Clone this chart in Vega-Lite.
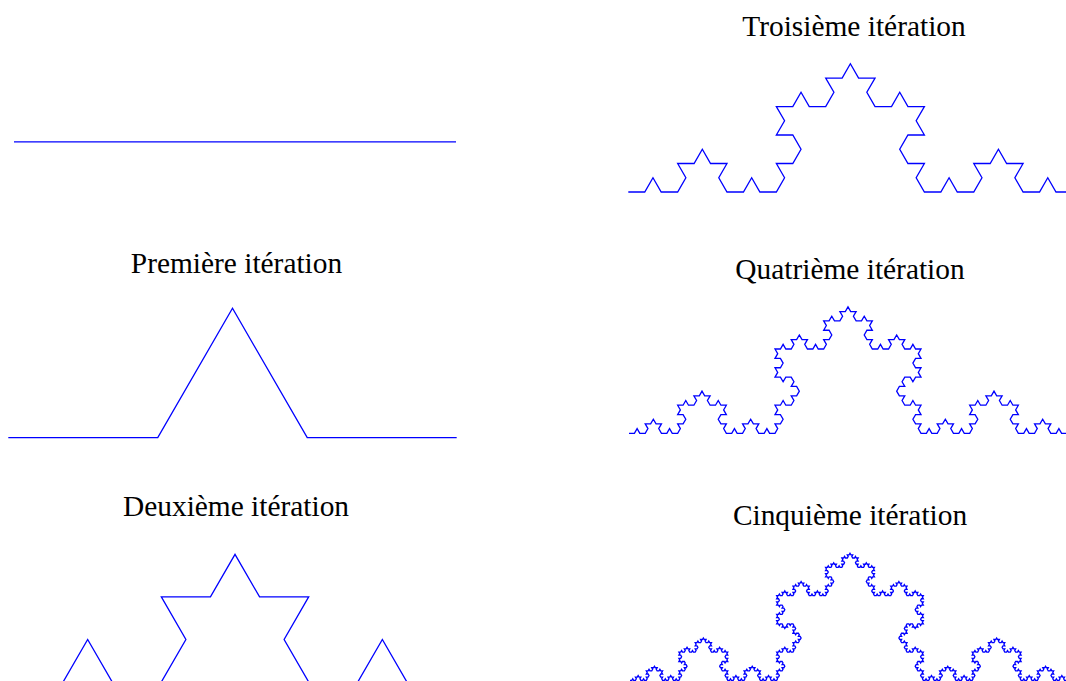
{
"$schema": "https://vega.github.io/schema/vega-lite/v6.json",
"padding": 0,
"background": "white",
"config": {"view": {"stroke": null}},
"columns": 2,
"spacing": {"row": 15, "column": 171},
"bounds": "flush",
"align": "each",
"datasets": {
"it0": [{"x":0,"y":0},{"x":2,"y":0}],
"it1": [{"x":0,"y":0},{"x":2,"y":0},{"x":3,"y":1},{"x":4,"y":0},{"x":6,"y":0}],
"it2": [{"x":0,"y":0},{"x":2,"y":0},{"x":3,"y":1},{"x":4,"y":0},{"x":6,"y":0},{"x":7,"y":1},{"x":6,"y":2},{"x":8,"y":2},{"x":9,"y":3},{"x":10,"y":2},{"x":12,"y":2},{"x":11,"y":1},{"x":12,"y":0},{"x":14,"y":0},{"x":15,"y":1},{"x":16,"y":0},{"x":18,"y":0}],
"it3": [{"x":0,"y":0},{"x":2,"y":0},{"x":3,"y":1},{"x":4,"y":0},{"x":6,"y":0},{"x":7,"y":1},{"x":6,"y":2},{"x":8,"y":2},{"x":9,"y":3},{"x":10,"y":2},{"x":12,"y":2},{"x":11,"y":1},{"x":12,"y":0},{"x":14,"y":0},{"x":15,"y":1},{"x":16,"y":0},{"x":18,"y":0},
{"x":19,"y":1},{"x":18,"y":2},{"x":20,"y":2},{"x":21,"y":3},{"x":20,"y":4},{"x":18,"y":4},{"x":19,"y":5},{"x":18,"y":6},{"x":20,"y":6},{"x":21,"y":7},{"x":22,"y":6},{"x":24,"y":6},{"x":25,"y":7},{"x":24,"y":8},{"x":26,"y":8},{"x":27,"y":9},
{"x":28,"y":8},{"x":30,"y":8},{"x":29,"y":7},{"x":30,"y":6},{"x":32,"y":6},{"x":33,"y":7},{"x":34,"y":6},{"x":36,"y":6},{"x":35,"y":5},{"x":36,"y":4},{"x":34,"y":4},{"x":33,"y":3},{"x":34,"y":2},{"x":36,"y":2},{"x":35,"y":1},{"x":36,"y":0},
{"x":38,"y":0},{"x":39,"y":1},{"x":40,"y":0},{"x":42,"y":0},{"x":43,"y":1},{"x":42,"y":2},{"x":44,"y":2},{"x":45,"y":3},{"x":46,"y":2},{"x":48,"y":2},{"x":47,"y":1},{"x":48,"y":0},{"x":50,"y":0},{"x":51,"y":1},{"x":52,"y":0},{"x":54,"y":0}],
"it4": [{"x":0,"y":0},{"x":2,"y":0},{"x":3,"y":1},{"x":4,"y":0},{"x":6,"y":0},{"x":7,"y":1},{"x":6,"y":2},{"x":8,"y":2},{"x":9,"y":3},{"x":10,"y":2},{"x":12,"y":2},{"x":11,"y":1},{"x":12,"y":0},{"x":14,"y":0},{"x":15,"y":1},{"x":16,"y":0},{"x":18,"y":0},
{"x":19,"y":1},{"x":18,"y":2},{"x":20,"y":2},{"x":21,"y":3},{"x":20,"y":4},{"x":18,"y":4},{"x":19,"y":5},{"x":18,"y":6},{"x":20,"y":6},{"x":21,"y":7},{"x":22,"y":6},{"x":24,"y":6},{"x":25,"y":7},{"x":24,"y":8},{"x":26,"y":8},{"x":27,"y":9},
{"x":28,"y":8},{"x":30,"y":8},{"x":29,"y":7},{"x":30,"y":6},{"x":32,"y":6},{"x":33,"y":7},{"x":34,"y":6},{"x":36,"y":6},{"x":35,"y":5},{"x":36,"y":4},{"x":34,"y":4},{"x":33,"y":3},{"x":34,"y":2},{"x":36,"y":2},{"x":35,"y":1},{"x":36,"y":0},
{"x":38,"y":0},{"x":39,"y":1},{"x":40,"y":0},{"x":42,"y":0},{"x":43,"y":1},{"x":42,"y":2},{"x":44,"y":2},{"x":45,"y":3},{"x":46,"y":2},{"x":48,"y":2},{"x":47,"y":1},{"x":48,"y":0},{"x":50,"y":0},{"x":51,"y":1},{"x":52,"y":0},{"x":54,"y":0},
{"x":55,"y":1},{"x":54,"y":2},{"x":56,"y":2},{"x":57,"y":3},{"x":56,"y":4},{"x":54,"y":4},{"x":55,"y":5},{"x":54,"y":6},{"x":56,"y":6},{"x":57,"y":7},{"x":58,"y":6},{"x":60,"y":6},{"x":61,"y":7},{"x":60,"y":8},{"x":62,"y":8},{"x":63,"y":9},
{"x":62,"y":10},{"x":60,"y":10},{"x":61,"y":11},{"x":60,"y":12},{"x":58,"y":12},{"x":57,"y":11},{"x":56,"y":12},{"x":54,"y":12},{"x":55,"y":13},{"x":54,"y":14},{"x":56,"y":14},{"x":57,"y":15},{"x":56,"y":16},{"x":54,"y":16},{"x":55,"y":17},{"x":54,"y":18},
{"x":56,"y":18},{"x":57,"y":19},{"x":58,"y":18},{"x":60,"y":18},{"x":61,"y":19},{"x":60,"y":20},{"x":62,"y":20},{"x":63,"y":21},{"x":64,"y":20},{"x":66,"y":20},{"x":65,"y":19},{"x":66,"y":18},{"x":68,"y":18},{"x":69,"y":19},{"x":70,"y":18},{"x":72,"y":18},
{"x":73,"y":19},{"x":72,"y":20},{"x":74,"y":20},{"x":75,"y":21},{"x":74,"y":22},{"x":72,"y":22},{"x":73,"y":23},{"x":72,"y":24},{"x":74,"y":24},{"x":75,"y":25},{"x":76,"y":24},{"x":78,"y":24},{"x":79,"y":25},{"x":78,"y":26},{"x":80,"y":26},{"x":81,"y":27},
{"x":82,"y":26},{"x":84,"y":26},{"x":83,"y":25},{"x":84,"y":24},{"x":86,"y":24},{"x":87,"y":25},{"x":88,"y":24},{"x":90,"y":24},{"x":89,"y":23},{"x":90,"y":22},{"x":88,"y":22},{"x":87,"y":21},{"x":88,"y":20},{"x":90,"y":20},{"x":89,"y":19},{"x":90,"y":18},
{"x":92,"y":18},{"x":93,"y":19},{"x":94,"y":18},{"x":96,"y":18},{"x":97,"y":19},{"x":96,"y":20},{"x":98,"y":20},{"x":99,"y":21},{"x":100,"y":20},{"x":102,"y":20},{"x":101,"y":19},{"x":102,"y":18},{"x":104,"y":18},{"x":105,"y":19},{"x":106,"y":18},{"x":108,"y":18},
{"x":107,"y":17},{"x":108,"y":16},{"x":106,"y":16},{"x":105,"y":15},{"x":106,"y":14},{"x":108,"y":14},{"x":107,"y":13},{"x":108,"y":12},{"x":106,"y":12},{"x":105,"y":11},{"x":104,"y":12},{"x":102,"y":12},{"x":101,"y":11},{"x":102,"y":10},{"x":100,"y":10},{"x":99,"y":9},
{"x":100,"y":8},{"x":102,"y":8},{"x":101,"y":7},{"x":102,"y":6},{"x":104,"y":6},{"x":105,"y":7},{"x":106,"y":6},{"x":108,"y":6},{"x":107,"y":5},{"x":108,"y":4},{"x":106,"y":4},{"x":105,"y":3},{"x":106,"y":2},{"x":108,"y":2},{"x":107,"y":1},{"x":108,"y":0},
{"x":110,"y":0},{"x":111,"y":1},{"x":112,"y":0},{"x":114,"y":0},{"x":115,"y":1},{"x":114,"y":2},{"x":116,"y":2},{"x":117,"y":3},{"x":118,"y":2},{"x":120,"y":2},{"x":119,"y":1},{"x":120,"y":0},{"x":122,"y":0},{"x":123,"y":1},{"x":124,"y":0},{"x":126,"y":0},
{"x":127,"y":1},{"x":126,"y":2},{"x":128,"y":2},{"x":129,"y":3},{"x":128,"y":4},{"x":126,"y":4},{"x":127,"y":5},{"x":126,"y":6},{"x":128,"y":6},{"x":129,"y":7},{"x":130,"y":6},{"x":132,"y":6},{"x":133,"y":7},{"x":132,"y":8},{"x":134,"y":8},{"x":135,"y":9},
{"x":136,"y":8},{"x":138,"y":8},{"x":137,"y":7},{"x":138,"y":6},{"x":140,"y":6},{"x":141,"y":7},{"x":142,"y":6},{"x":144,"y":6},{"x":143,"y":5},{"x":144,"y":4},{"x":142,"y":4},{"x":141,"y":3},{"x":142,"y":2},{"x":144,"y":2},{"x":143,"y":1},{"x":144,"y":0},
{"x":146,"y":0},{"x":147,"y":1},{"x":148,"y":0},{"x":150,"y":0},{"x":151,"y":1},{"x":150,"y":2},{"x":152,"y":2},{"x":153,"y":3},{"x":154,"y":2},{"x":156,"y":2},{"x":155,"y":1},{"x":156,"y":0},{"x":158,"y":0},{"x":159,"y":1},{"x":160,"y":0},{"x":162,"y":0}],
"it5": [{"x":0,"y":0},{"x":2,"y":0},{"x":3,"y":1},{"x":4,"y":0},{"x":6,"y":0},{"x":7,"y":1},{"x":6,"y":2},{"x":8,"y":2},{"x":9,"y":3},{"x":10,"y":2},{"x":12,"y":2},{"x":11,"y":1},{"x":12,"y":0},{"x":14,"y":0},{"x":15,"y":1},{"x":16,"y":0},{"x":18,"y":0},
{"x":19,"y":1},{"x":18,"y":2},{"x":20,"y":2},{"x":21,"y":3},{"x":20,"y":4},{"x":18,"y":4},{"x":19,"y":5},{"x":18,"y":6},{"x":20,"y":6},{"x":21,"y":7},{"x":22,"y":6},{"x":24,"y":6},{"x":25,"y":7},{"x":24,"y":8},{"x":26,"y":8},{"x":27,"y":9},
{"x":28,"y":8},{"x":30,"y":8},{"x":29,"y":7},{"x":30,"y":6},{"x":32,"y":6},{"x":33,"y":7},{"x":34,"y":6},{"x":36,"y":6},{"x":35,"y":5},{"x":36,"y":4},{"x":34,"y":4},{"x":33,"y":3},{"x":34,"y":2},{"x":36,"y":2},{"x":35,"y":1},{"x":36,"y":0},
{"x":38,"y":0},{"x":39,"y":1},{"x":40,"y":0},{"x":42,"y":0},{"x":43,"y":1},{"x":42,"y":2},{"x":44,"y":2},{"x":45,"y":3},{"x":46,"y":2},{"x":48,"y":2},{"x":47,"y":1},{"x":48,"y":0},{"x":50,"y":0},{"x":51,"y":1},{"x":52,"y":0},{"x":54,"y":0},
{"x":55,"y":1},{"x":54,"y":2},{"x":56,"y":2},{"x":57,"y":3},{"x":56,"y":4},{"x":54,"y":4},{"x":55,"y":5},{"x":54,"y":6},{"x":56,"y":6},{"x":57,"y":7},{"x":58,"y":6},{"x":60,"y":6},{"x":61,"y":7},{"x":60,"y":8},{"x":62,"y":8},{"x":63,"y":9},
{"x":62,"y":10},{"x":60,"y":10},{"x":61,"y":11},{"x":60,"y":12},{"x":58,"y":12},{"x":57,"y":11},{"x":56,"y":12},{"x":54,"y":12},{"x":55,"y":13},{"x":54,"y":14},{"x":56,"y":14},{"x":57,"y":15},{"x":56,"y":16},{"x":54,"y":16},{"x":55,"y":17},{"x":54,"y":18},
{"x":56,"y":18},{"x":57,"y":19},{"x":58,"y":18},{"x":60,"y":18},{"x":61,"y":19},{"x":60,"y":20},{"x":62,"y":20},{"x":63,"y":21},{"x":64,"y":20},{"x":66,"y":20},{"x":65,"y":19},{"x":66,"y":18},{"x":68,"y":18},{"x":69,"y":19},{"x":70,"y":18},{"x":72,"y":18},
{"x":73,"y":19},{"x":72,"y":20},{"x":74,"y":20},{"x":75,"y":21},{"x":74,"y":22},{"x":72,"y":22},{"x":73,"y":23},{"x":72,"y":24},{"x":74,"y":24},{"x":75,"y":25},{"x":76,"y":24},{"x":78,"y":24},{"x":79,"y":25},{"x":78,"y":26},{"x":80,"y":26},{"x":81,"y":27},
{"x":82,"y":26},{"x":84,"y":26},{"x":83,"y":25},{"x":84,"y":24},{"x":86,"y":24},{"x":87,"y":25},{"x":88,"y":24},{"x":90,"y":24},{"x":89,"y":23},{"x":90,"y":22},{"x":88,"y":22},{"x":87,"y":21},{"x":88,"y":20},{"x":90,"y":20},{"x":89,"y":19},{"x":90,"y":18},
{"x":92,"y":18},{"x":93,"y":19},{"x":94,"y":18},{"x":96,"y":18},{"x":97,"y":19},{"x":96,"y":20},{"x":98,"y":20},{"x":99,"y":21},{"x":100,"y":20},{"x":102,"y":20},{"x":101,"y":19},{"x":102,"y":18},{"x":104,"y":18},{"x":105,"y":19},{"x":106,"y":18},{"x":108,"y":18},
{"x":107,"y":17},{"x":108,"y":16},{"x":106,"y":16},{"x":105,"y":15},{"x":106,"y":14},{"x":108,"y":14},{"x":107,"y":13},{"x":108,"y":12},{"x":106,"y":12},{"x":105,"y":11},{"x":104,"y":12},{"x":102,"y":12},{"x":101,"y":11},{"x":102,"y":10},{"x":100,"y":10},{"x":99,"y":9},
{"x":100,"y":8},{"x":102,"y":8},{"x":101,"y":7},{"x":102,"y":6},{"x":104,"y":6},{"x":105,"y":7},{"x":106,"y":6},{"x":108,"y":6},{"x":107,"y":5},{"x":108,"y":4},{"x":106,"y":4},{"x":105,"y":3},{"x":106,"y":2},{"x":108,"y":2},{"x":107,"y":1},{"x":108,"y":0},
{"x":110,"y":0},{"x":111,"y":1},{"x":112,"y":0},{"x":114,"y":0},{"x":115,"y":1},{"x":114,"y":2},{"x":116,"y":2},{"x":117,"y":3},{"x":118,"y":2},{"x":120,"y":2},{"x":119,"y":1},{"x":120,"y":0},{"x":122,"y":0},{"x":123,"y":1},{"x":124,"y":0},{"x":126,"y":0},
{"x":127,"y":1},{"x":126,"y":2},{"x":128,"y":2},{"x":129,"y":3},{"x":128,"y":4},{"x":126,"y":4},{"x":127,"y":5},{"x":126,"y":6},{"x":128,"y":6},{"x":129,"y":7},{"x":130,"y":6},{"x":132,"y":6},{"x":133,"y":7},{"x":132,"y":8},{"x":134,"y":8},{"x":135,"y":9},
{"x":136,"y":8},{"x":138,"y":8},{"x":137,"y":7},{"x":138,"y":6},{"x":140,"y":6},{"x":141,"y":7},{"x":142,"y":6},{"x":144,"y":6},{"x":143,"y":5},{"x":144,"y":4},{"x":142,"y":4},{"x":141,"y":3},{"x":142,"y":2},{"x":144,"y":2},{"x":143,"y":1},{"x":144,"y":0},
{"x":146,"y":0},{"x":147,"y":1},{"x":148,"y":0},{"x":150,"y":0},{"x":151,"y":1},{"x":150,"y":2},{"x":152,"y":2},{"x":153,"y":3},{"x":154,"y":2},{"x":156,"y":2},{"x":155,"y":1},{"x":156,"y":0},{"x":158,"y":0},{"x":159,"y":1},{"x":160,"y":0},{"x":162,"y":0},
{"x":163,"y":1},{"x":162,"y":2},{"x":164,"y":2},{"x":165,"y":3},{"x":164,"y":4},{"x":162,"y":4},{"x":163,"y":5},{"x":162,"y":6},{"x":164,"y":6},{"x":165,"y":7},{"x":166,"y":6},{"x":168,"y":6},{"x":169,"y":7},{"x":168,"y":8},{"x":170,"y":8},{"x":171,"y":9},
{"x":170,"y":10},{"x":168,"y":10},{"x":169,"y":11},{"x":168,"y":12},{"x":166,"y":12},{"x":165,"y":11},{"x":164,"y":12},{"x":162,"y":12},{"x":163,"y":13},{"x":162,"y":14},{"x":164,"y":14},{"x":165,"y":15},{"x":164,"y":16},{"x":162,"y":16},{"x":163,"y":17},{"x":162,"y":18},
{"x":164,"y":18},{"x":165,"y":19},{"x":166,"y":18},{"x":168,"y":18},{"x":169,"y":19},{"x":168,"y":20},{"x":170,"y":20},{"x":171,"y":21},{"x":172,"y":20},{"x":174,"y":20},{"x":173,"y":19},{"x":174,"y":18},{"x":176,"y":18},{"x":177,"y":19},{"x":178,"y":18},{"x":180,"y":18},
{"x":181,"y":19},{"x":180,"y":20},{"x":182,"y":20},{"x":183,"y":21},{"x":182,"y":22},{"x":180,"y":22},{"x":181,"y":23},{"x":180,"y":24},{"x":182,"y":24},{"x":183,"y":25},{"x":184,"y":24},{"x":186,"y":24},{"x":187,"y":25},{"x":186,"y":26},{"x":188,"y":26},{"x":189,"y":27},
{"x":188,"y":28},{"x":186,"y":28},{"x":187,"y":29},{"x":186,"y":30},{"x":184,"y":30},{"x":183,"y":29},{"x":182,"y":30},{"x":180,"y":30},{"x":181,"y":31},{"x":180,"y":32},{"x":182,"y":32},{"x":183,"y":33},{"x":182,"y":34},{"x":180,"y":34},{"x":181,"y":35},{"x":180,"y":36},
{"x":178,"y":36},{"x":177,"y":35},{"x":176,"y":36},{"x":174,"y":36},{"x":173,"y":35},{"x":174,"y":34},{"x":172,"y":34},{"x":171,"y":33},{"x":170,"y":34},{"x":168,"y":34},{"x":169,"y":35},{"x":168,"y":36},{"x":166,"y":36},{"x":165,"y":35},{"x":164,"y":36},{"x":162,"y":36},
{"x":163,"y":37},{"x":162,"y":38},{"x":164,"y":38},{"x":165,"y":39},{"x":164,"y":40},{"x":162,"y":40},{"x":163,"y":41},{"x":162,"y":42},{"x":164,"y":42},{"x":165,"y":43},{"x":166,"y":42},{"x":168,"y":42},{"x":169,"y":43},{"x":168,"y":44},{"x":170,"y":44},{"x":171,"y":45},
{"x":170,"y":46},{"x":168,"y":46},{"x":169,"y":47},{"x":168,"y":48},{"x":166,"y":48},{"x":165,"y":47},{"x":164,"y":48},{"x":162,"y":48},{"x":163,"y":49},{"x":162,"y":50},{"x":164,"y":50},{"x":165,"y":51},{"x":164,"y":52},{"x":162,"y":52},{"x":163,"y":53},{"x":162,"y":54},
{"x":164,"y":54},{"x":165,"y":55},{"x":166,"y":54},{"x":168,"y":54},{"x":169,"y":55},{"x":168,"y":56},{"x":170,"y":56},{"x":171,"y":57},{"x":172,"y":56},{"x":174,"y":56},{"x":173,"y":55},{"x":174,"y":54},{"x":176,"y":54},{"x":177,"y":55},{"x":178,"y":54},{"x":180,"y":54},
{"x":181,"y":55},{"x":180,"y":56},{"x":182,"y":56},{"x":183,"y":57},{"x":182,"y":58},{"x":180,"y":58},{"x":181,"y":59},{"x":180,"y":60},{"x":182,"y":60},{"x":183,"y":61},{"x":184,"y":60},{"x":186,"y":60},{"x":187,"y":61},{"x":186,"y":62},{"x":188,"y":62},{"x":189,"y":63},
{"x":190,"y":62},{"x":192,"y":62},{"x":191,"y":61},{"x":192,"y":60},{"x":194,"y":60},{"x":195,"y":61},{"x":196,"y":60},{"x":198,"y":60},{"x":197,"y":59},{"x":198,"y":58},{"x":196,"y":58},{"x":195,"y":57},{"x":196,"y":56},{"x":198,"y":56},{"x":197,"y":55},{"x":198,"y":54},
{"x":200,"y":54},{"x":201,"y":55},{"x":202,"y":54},{"x":204,"y":54},{"x":205,"y":55},{"x":204,"y":56},{"x":206,"y":56},{"x":207,"y":57},{"x":208,"y":56},{"x":210,"y":56},{"x":209,"y":55},{"x":210,"y":54},{"x":212,"y":54},{"x":213,"y":55},{"x":214,"y":54},{"x":216,"y":54},
{"x":217,"y":55},{"x":216,"y":56},{"x":218,"y":56},{"x":219,"y":57},{"x":218,"y":58},{"x":216,"y":58},{"x":217,"y":59},{"x":216,"y":60},{"x":218,"y":60},{"x":219,"y":61},{"x":220,"y":60},{"x":222,"y":60},{"x":223,"y":61},{"x":222,"y":62},{"x":224,"y":62},{"x":225,"y":63},
{"x":224,"y":64},{"x":222,"y":64},{"x":223,"y":65},{"x":222,"y":66},{"x":220,"y":66},{"x":219,"y":65},{"x":218,"y":66},{"x":216,"y":66},{"x":217,"y":67},{"x":216,"y":68},{"x":218,"y":68},{"x":219,"y":69},{"x":218,"y":70},{"x":216,"y":70},{"x":217,"y":71},{"x":216,"y":72},
{"x":218,"y":72},{"x":219,"y":73},{"x":220,"y":72},{"x":222,"y":72},{"x":223,"y":73},{"x":222,"y":74},{"x":224,"y":74},{"x":225,"y":75},{"x":226,"y":74},{"x":228,"y":74},{"x":227,"y":73},{"x":228,"y":72},{"x":230,"y":72},{"x":231,"y":73},{"x":232,"y":72},{"x":234,"y":72},
{"x":235,"y":73},{"x":234,"y":74},{"x":236,"y":74},{"x":237,"y":75},{"x":236,"y":76},{"x":234,"y":76},{"x":235,"y":77},{"x":234,"y":78},{"x":236,"y":78},{"x":237,"y":79},{"x":238,"y":78},{"x":240,"y":78},{"x":241,"y":79},{"x":240,"y":80},{"x":242,"y":80},{"x":243,"y":81},
{"x":244,"y":80},{"x":246,"y":80},{"x":245,"y":79},{"x":246,"y":78},{"x":248,"y":78},{"x":249,"y":79},{"x":250,"y":78},{"x":252,"y":78},{"x":251,"y":77},{"x":252,"y":76},{"x":250,"y":76},{"x":249,"y":75},{"x":250,"y":74},{"x":252,"y":74},{"x":251,"y":73},{"x":252,"y":72},
{"x":254,"y":72},{"x":255,"y":73},{"x":256,"y":72},{"x":258,"y":72},{"x":259,"y":73},{"x":258,"y":74},{"x":260,"y":74},{"x":261,"y":75},{"x":262,"y":74},{"x":264,"y":74},{"x":263,"y":73},{"x":264,"y":72},{"x":266,"y":72},{"x":267,"y":73},{"x":268,"y":72},{"x":270,"y":72},
{"x":269,"y":71},{"x":270,"y":70},{"x":268,"y":70},{"x":267,"y":69},{"x":268,"y":68},{"x":270,"y":68},{"x":269,"y":67},{"x":270,"y":66},{"x":268,"y":66},{"x":267,"y":65},{"x":266,"y":66},{"x":264,"y":66},{"x":263,"y":65},{"x":264,"y":64},{"x":262,"y":64},{"x":261,"y":63},
{"x":262,"y":62},{"x":264,"y":62},{"x":263,"y":61},{"x":264,"y":60},{"x":266,"y":60},{"x":267,"y":61},{"x":268,"y":60},{"x":270,"y":60},{"x":269,"y":59},{"x":270,"y":58},{"x":268,"y":58},{"x":267,"y":57},{"x":268,"y":56},{"x":270,"y":56},{"x":269,"y":55},{"x":270,"y":54},
{"x":272,"y":54},{"x":273,"y":55},{"x":274,"y":54},{"x":276,"y":54},{"x":277,"y":55},{"x":276,"y":56},{"x":278,"y":56},{"x":279,"y":57},{"x":280,"y":56},{"x":282,"y":56},{"x":281,"y":55},{"x":282,"y":54},{"x":284,"y":54},{"x":285,"y":55},{"x":286,"y":54},{"x":288,"y":54},
{"x":289,"y":55},{"x":288,"y":56},{"x":290,"y":56},{"x":291,"y":57},{"x":290,"y":58},{"x":288,"y":58},{"x":289,"y":59},{"x":288,"y":60},{"x":290,"y":60},{"x":291,"y":61},{"x":292,"y":60},{"x":294,"y":60},{"x":295,"y":61},{"x":294,"y":62},{"x":296,"y":62},{"x":297,"y":63},
{"x":298,"y":62},{"x":300,"y":62},{"x":299,"y":61},{"x":300,"y":60},{"x":302,"y":60},{"x":303,"y":61},{"x":304,"y":60},{"x":306,"y":60},{"x":305,"y":59},{"x":306,"y":58},{"x":304,"y":58},{"x":303,"y":57},{"x":304,"y":56},{"x":306,"y":56},{"x":305,"y":55},{"x":306,"y":54},
{"x":308,"y":54},{"x":309,"y":55},{"x":310,"y":54},{"x":312,"y":54},{"x":313,"y":55},{"x":312,"y":56},{"x":314,"y":56},{"x":315,"y":57},{"x":316,"y":56},{"x":318,"y":56},{"x":317,"y":55},{"x":318,"y":54},{"x":320,"y":54},{"x":321,"y":55},{"x":322,"y":54},{"x":324,"y":54},
{"x":323,"y":53},{"x":324,"y":52},{"x":322,"y":52},{"x":321,"y":51},{"x":322,"y":50},{"x":324,"y":50},{"x":323,"y":49},{"x":324,"y":48},{"x":322,"y":48},{"x":321,"y":47},{"x":320,"y":48},{"x":318,"y":48},{"x":317,"y":47},{"x":318,"y":46},{"x":316,"y":46},{"x":315,"y":45},
{"x":316,"y":44},{"x":318,"y":44},{"x":317,"y":43},{"x":318,"y":42},{"x":320,"y":42},{"x":321,"y":43},{"x":322,"y":42},{"x":324,"y":42},{"x":323,"y":41},{"x":324,"y":40},{"x":322,"y":40},{"x":321,"y":39},{"x":322,"y":38},{"x":324,"y":38},{"x":323,"y":37},{"x":324,"y":36},
{"x":322,"y":36},{"x":321,"y":35},{"x":320,"y":36},{"x":318,"y":36},{"x":317,"y":35},{"x":318,"y":34},{"x":316,"y":34},{"x":315,"y":33},{"x":314,"y":34},{"x":312,"y":34},{"x":313,"y":35},{"x":312,"y":36},{"x":310,"y":36},{"x":309,"y":35},{"x":308,"y":36},{"x":306,"y":36},
{"x":305,"y":35},{"x":306,"y":34},{"x":304,"y":34},{"x":303,"y":33},{"x":304,"y":32},{"x":306,"y":32},{"x":305,"y":31},{"x":306,"y":30},{"x":304,"y":30},{"x":303,"y":29},{"x":302,"y":30},{"x":300,"y":30},{"x":299,"y":29},{"x":300,"y":28},{"x":298,"y":28},{"x":297,"y":27},
{"x":298,"y":26},{"x":300,"y":26},{"x":299,"y":25},{"x":300,"y":24},{"x":302,"y":24},{"x":303,"y":25},{"x":304,"y":24},{"x":306,"y":24},{"x":305,"y":23},{"x":306,"y":22},{"x":304,"y":22},{"x":303,"y":21},{"x":304,"y":20},{"x":306,"y":20},{"x":305,"y":19},{"x":306,"y":18},
{"x":308,"y":18},{"x":309,"y":19},{"x":310,"y":18},{"x":312,"y":18},{"x":313,"y":19},{"x":312,"y":20},{"x":314,"y":20},{"x":315,"y":21},{"x":316,"y":20},{"x":318,"y":20},{"x":317,"y":19},{"x":318,"y":18},{"x":320,"y":18},{"x":321,"y":19},{"x":322,"y":18},{"x":324,"y":18},
{"x":323,"y":17},{"x":324,"y":16},{"x":322,"y":16},{"x":321,"y":15},{"x":322,"y":14},{"x":324,"y":14},{"x":323,"y":13},{"x":324,"y":12},{"x":322,"y":12},{"x":321,"y":11},{"x":320,"y":12},{"x":318,"y":12},{"x":317,"y":11},{"x":318,"y":10},{"x":316,"y":10},{"x":315,"y":9},
{"x":316,"y":8},{"x":318,"y":8},{"x":317,"y":7},{"x":318,"y":6},{"x":320,"y":6},{"x":321,"y":7},{"x":322,"y":6},{"x":324,"y":6},{"x":323,"y":5},{"x":324,"y":4},{"x":322,"y":4},{"x":321,"y":3},{"x":322,"y":2},{"x":324,"y":2},{"x":323,"y":1},{"x":324,"y":0},
{"x":326,"y":0},{"x":327,"y":1},{"x":328,"y":0},{"x":330,"y":0},{"x":331,"y":1},{"x":330,"y":2},{"x":332,"y":2},{"x":333,"y":3},{"x":334,"y":2},{"x":336,"y":2},{"x":335,"y":1},{"x":336,"y":0},{"x":338,"y":0},{"x":339,"y":1},{"x":340,"y":0},{"x":342,"y":0},
{"x":343,"y":1},{"x":342,"y":2},{"x":344,"y":2},{"x":345,"y":3},{"x":344,"y":4},{"x":342,"y":4},{"x":343,"y":5},{"x":342,"y":6},{"x":344,"y":6},{"x":345,"y":7},{"x":346,"y":6},{"x":348,"y":6},{"x":349,"y":7},{"x":348,"y":8},{"x":350,"y":8},{"x":351,"y":9},
{"x":352,"y":8},{"x":354,"y":8},{"x":353,"y":7},{"x":354,"y":6},{"x":356,"y":6},{"x":357,"y":7},{"x":358,"y":6},{"x":360,"y":6},{"x":359,"y":5},{"x":360,"y":4},{"x":358,"y":4},{"x":357,"y":3},{"x":358,"y":2},{"x":360,"y":2},{"x":359,"y":1},{"x":360,"y":0},
{"x":362,"y":0},{"x":363,"y":1},{"x":364,"y":0},{"x":366,"y":0},{"x":367,"y":1},{"x":366,"y":2},{"x":368,"y":2},{"x":369,"y":3},{"x":370,"y":2},{"x":372,"y":2},{"x":371,"y":1},{"x":372,"y":0},{"x":374,"y":0},{"x":375,"y":1},{"x":376,"y":0},{"x":378,"y":0},
{"x":379,"y":1},{"x":378,"y":2},{"x":380,"y":2},{"x":381,"y":3},{"x":380,"y":4},{"x":378,"y":4},{"x":379,"y":5},{"x":378,"y":6},{"x":380,"y":6},{"x":381,"y":7},{"x":382,"y":6},{"x":384,"y":6},{"x":385,"y":7},{"x":384,"y":8},{"x":386,"y":8},{"x":387,"y":9},
{"x":386,"y":10},{"x":384,"y":10},{"x":385,"y":11},{"x":384,"y":12},{"x":382,"y":12},{"x":381,"y":11},{"x":380,"y":12},{"x":378,"y":12},{"x":379,"y":13},{"x":378,"y":14},{"x":380,"y":14},{"x":381,"y":15},{"x":380,"y":16},{"x":378,"y":16},{"x":379,"y":17},{"x":378,"y":18},
{"x":380,"y":18},{"x":381,"y":19},{"x":382,"y":18},{"x":384,"y":18},{"x":385,"y":19},{"x":384,"y":20},{"x":386,"y":20},{"x":387,"y":21},{"x":388,"y":20},{"x":390,"y":20},{"x":389,"y":19},{"x":390,"y":18},{"x":392,"y":18},{"x":393,"y":19},{"x":394,"y":18},{"x":396,"y":18},
{"x":397,"y":19},{"x":396,"y":20},{"x":398,"y":20},{"x":399,"y":21},{"x":398,"y":22},{"x":396,"y":22},{"x":397,"y":23},{"x":396,"y":24},{"x":398,"y":24},{"x":399,"y":25},{"x":400,"y":24},{"x":402,"y":24},{"x":403,"y":25},{"x":402,"y":26},{"x":404,"y":26},{"x":405,"y":27},
{"x":406,"y":26},{"x":408,"y":26},{"x":407,"y":25},{"x":408,"y":24},{"x":410,"y":24},{"x":411,"y":25},{"x":412,"y":24},{"x":414,"y":24},{"x":413,"y":23},{"x":414,"y":22},{"x":412,"y":22},{"x":411,"y":21},{"x":412,"y":20},{"x":414,"y":20},{"x":413,"y":19},{"x":414,"y":18},
{"x":416,"y":18},{"x":417,"y":19},{"x":418,"y":18},{"x":420,"y":18},{"x":421,"y":19},{"x":420,"y":20},{"x":422,"y":20},{"x":423,"y":21},{"x":424,"y":20},{"x":426,"y":20},{"x":425,"y":19},{"x":426,"y":18},{"x":428,"y":18},{"x":429,"y":19},{"x":430,"y":18},{"x":432,"y":18},
{"x":431,"y":17},{"x":432,"y":16},{"x":430,"y":16},{"x":429,"y":15},{"x":430,"y":14},{"x":432,"y":14},{"x":431,"y":13},{"x":432,"y":12},{"x":430,"y":12},{"x":429,"y":11},{"x":428,"y":12},{"x":426,"y":12},{"x":425,"y":11},{"x":426,"y":10},{"x":424,"y":10},{"x":423,"y":9},
{"x":424,"y":8},{"x":426,"y":8},{"x":425,"y":7},{"x":426,"y":6},{"x":428,"y":6},{"x":429,"y":7},{"x":430,"y":6},{"x":432,"y":6},{"x":431,"y":5},{"x":432,"y":4},{"x":430,"y":4},{"x":429,"y":3},{"x":430,"y":2},{"x":432,"y":2},{"x":431,"y":1},{"x":432,"y":0},
{"x":434,"y":0},{"x":435,"y":1},{"x":436,"y":0},{"x":438,"y":0},{"x":439,"y":1},{"x":438,"y":2},{"x":440,"y":2},{"x":441,"y":3},{"x":442,"y":2},{"x":444,"y":2},{"x":443,"y":1},{"x":444,"y":0},{"x":446,"y":0},{"x":447,"y":1},{"x":448,"y":0},{"x":450,"y":0},
{"x":451,"y":1},{"x":450,"y":2},{"x":452,"y":2},{"x":453,"y":3},{"x":452,"y":4},{"x":450,"y":4},{"x":451,"y":5},{"x":450,"y":6},{"x":452,"y":6},{"x":453,"y":7},{"x":454,"y":6},{"x":456,"y":6},{"x":457,"y":7},{"x":456,"y":8},{"x":458,"y":8},{"x":459,"y":9},
{"x":460,"y":8},{"x":462,"y":8},{"x":461,"y":7},{"x":462,"y":6},{"x":464,"y":6},{"x":465,"y":7},{"x":466,"y":6},{"x":468,"y":6},{"x":467,"y":5},{"x":468,"y":4},{"x":466,"y":4},{"x":465,"y":3},{"x":466,"y":2},{"x":468,"y":2},{"x":467,"y":1},{"x":468,"y":0},
{"x":470,"y":0},{"x":471,"y":1},{"x":472,"y":0},{"x":474,"y":0},{"x":475,"y":1},{"x":474,"y":2},{"x":476,"y":2},{"x":477,"y":3},{"x":478,"y":2},{"x":480,"y":2},{"x":479,"y":1},{"x":480,"y":0},{"x":482,"y":0},{"x":483,"y":1},{"x":484,"y":0},{"x":486,"y":0}]
},
"concat": [
{"width": 457, "height": 215, "data": {"name": "it0"},
 "mark": {"type": "line", "color": "#0000ff", "strokeWidth": 1.3, "clip": true},
 "encoding": {
  "x": {"field": "x", "type": "quantitative", "scale": {"domain": [-0.0633, 2.0045], "nice": false, "zero": false}, "axis": null},
  "y": {"field": "y", "type": "quantitative", "scale": {"domain": [-0.34, 0.66], "nice": false, "zero": false}, "axis": null},
  "order": {"value": null}}},
{"width": 438, "height": 215, "data": {"name": "it3"},
 "title": {"text": "Troisième itération", "font": "Liberation Serif", "fontSize": 29.4, "fontWeight": "normal", "color": "black", "baseline": "alphabetic", "anchor": "middle", "frame": "group", "offset": -65, "dx": 7},
 "mark": {"type": "line", "color": "#0000ff", "strokeWidth": 1.3, "clip": true},
 "encoding": {
  "x": {"field": "x", "type": "quantitative", "scale": {"domain": [-0.036, 53.216], "nice": false, "zero": false}, "axis": null},
  "y": {"field": "y", "type": "quantitative", "scale": {"domain": [-1.614, 13.478], "nice": false, "zero": false}, "axis": null},
  "order": {"value": null}}},
{"width": 457, "height": 230, "data": {"name": "it1"},
 "title": {"text": "Première itération", "font": "Liberation Serif", "fontSize": 29.4, "fontWeight": "normal", "color": "black", "baseline": "alphabetic", "anchor": "middle", "frame": "group", "offset": -72.5, "dx": 8},
 "mark": {"type": "line", "color": "#0000ff", "strokeWidth": 1.3, "clip": true},
 "encoding": {
  "x": {"field": "x", "type": "quantitative", "scale": {"domain": [-0.111, 6.004], "nice": false, "zero": false}, "axis": null},
  "y": {"field": "y", "type": "quantitative", "scale": {"domain": [-0.1723, 1.6046], "nice": false, "zero": false}, "axis": null},
  "order": {"value": null}}},
{"width": 438, "height": 230, "data": {"name": "it4"},
 "title": {"text": "Quatrième itération", "font": "Liberation Serif", "fontSize": 29.4, "fontWeight": "normal", "color": "black", "baseline": "alphabetic", "anchor": "middle", "frame": "group", "offset": -78.5, "dx": 3},
 "mark": {"type": "line", "color": "#0000ff", "strokeWidth": 1.3, "clip": true},
 "encoding": {
  "x": {"field": "x", "type": "quantitative", "scale": {"domain": [-0.37, 161.63], "nice": false, "zero": false}, "axis": null},
  "y": {"field": "y", "type": "quantitative", "scale": {"domain": [-5.70, 43.41], "nice": false, "zero": false}, "axis": null},
  "order": {"value": null}}},
{"width": 457, "height": 206, "data": {"name": "it2"},
 "title": {"text": "Deuxième itération", "font": "Liberation Serif", "fontSize": 29.4, "fontWeight": "normal", "color": "black", "baseline": "alphabetic", "anchor": "middle", "frame": "group", "offset": -70.5, "dx": 7.5},
 "mark": {"type": "line", "color": "#0000ff", "strokeWidth": 1.3, "clip": true},
 "encoding": {
  "x": {"field": "x", "type": "quantitative", "scale": {"domain": [-0.570, 18.04], "nice": false, "zero": false}, "axis": null},
  "y": {"field": "y", "type": "quantitative", "scale": {"domain": [0.023, 4.867], "nice": false, "zero": false}, "axis": null},
  "order": {"value": null}}},
{"width": 438, "height": 206, "data": {"name": "it5"},
 "title": {"text": "Cinquième itération", "font": "Liberation Serif", "fontSize": 29.4, "fontWeight": "normal", "color": "black", "baseline": "alphabetic", "anchor": "middle", "frame": "group", "offset": -79.5, "dx": 3},
 "mark": {"type": "line", "color": "#0000ff", "strokeWidth": 1.3, "clip": true},
 "encoding": {
  "x": {"field": "x", "type": "quantitative", "scale": {"domain": [-2.209, 481.6], "nice": false, "zero": false}, "axis": null},
  "y": {"field": "y", "type": "quantitative", "scale": {"domain": [-0.45, 130.92], "nice": false, "zero": false}, "axis": null},
  "order": {"value": null}}}
]
}
